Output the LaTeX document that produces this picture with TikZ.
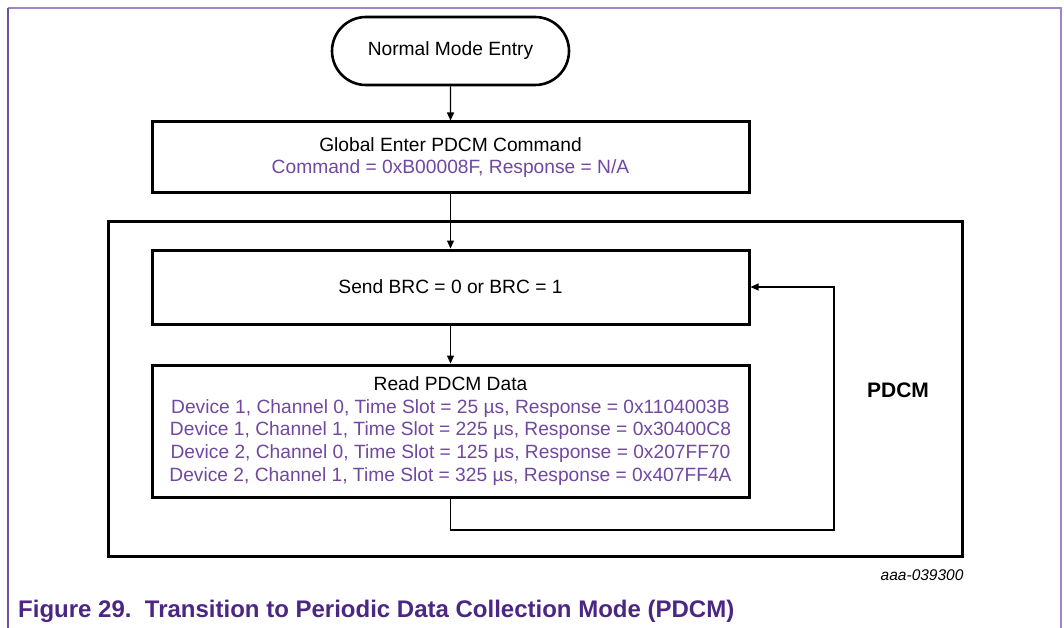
\documentclass[tikz,border=0pt]{standalone}
\usepackage{fontspec}
\setmainfont{Liberation Sans}
\usetikzlibrary{shapes.misc,arrows.meta}
\definecolor{nxpviolet}{RGB}{112,72,160}
\definecolor{captionviolet}{RGB}{75,38,130}
\definecolor{framepurple}{RGB}{160,132,196}
\definecolor{frameleft}{RGB}{110,80,160}

\begin{document}
\begin{tikzpicture}[x=1pt,y=-1pt,
  boxfont/.style={font=\fontsize{19.2}{22.8}\selectfont},
  term/.style={rounded rectangle, draw, line width=2.6pt, minimum width=237pt,
    minimum height=68pt, boxfont, inner sep=0pt},
  stepbox/.style={rectangle, draw, line width=3pt, minimum width=597pt,
    align=center, boxfont, inner sep=0pt},
  flow/.style={draw, line width=1.3pt, -{Triangle[length=8pt,width=7pt]}},
  back/.style={draw, line width=1.1pt, -{Triangle[length=8pt,width=7pt]}}
]
\useasboundingbox (0,0) rectangle (1064,628);

% page frame
\draw[framepurple, line width=1.2pt] (8,8) -- (1061,8) -- (1061,628);
\draw[frameleft, line width=1.2pt] (8,628) -- (8,8);

% PDCM region
\node[draw, line width=3pt, minimum width=854pt, minimum height=334pt, inner sep=0pt]
  (region) at (535,389) {};
\node[font=\bfseries\fontsize{21}{21}\selectfont] (regionlabel) at (898,390) {PDCM};

% flow steps
\node[term] (entry) at (450.5,51) {Normal Mode Entry};
\node[stepbox, minimum height=71pt] (gcmd) at (450.5,157.5)
  {Global Enter PDCM Command\\\textcolor{nxpviolet}{Command = 0xB00008F, Response = N/A}};
\node[stepbox, minimum height=74pt] (brc) at (450.5,287)
  {Send BRC = 0 or BRC = 1};
\node[stepbox, minimum height=132pt] (read) at (450.5,431)
  {Read PDCM Data\\
   \textcolor{nxpviolet}{Device 1, Channel 0, Time Slot = 25 µs, Response = 0x1104003B}\\
   \textcolor{nxpviolet}{Device 1, Channel 1, Time Slot = 225 µs, Response = 0x30400C8}\\
   \textcolor{nxpviolet}{Device 2, Channel 0, Time Slot = 125 µs, Response = 0x207FF70}\\
   \textcolor{nxpviolet}{Device 2, Channel 1, Time Slot = 325 µs, Response = 0x407FF4A}};

% connectors
\path[flow] (entry) -- (gcmd);
\path[flow] (gcmd) -- (brc);
\path[flow] (brc) -- (read);
\coordinate (loopcorner) at (834,530);
\path[back] (read.south) |- (loopcorner) |- (brc.east);

% drawing number and caption
\node[anchor=east, font=\itshape\fontsize{15.5}{15.5}\selectfont] (docid) at (967,575) {aaa-039300};
\node[anchor=west, font=\bfseries\fontsize{24}{24}\selectfont, text=captionviolet, inner sep=0pt]
  (caption) at (18,611) {Figure 29.\ \ Transition to Periodic Data Collection Mode (PDCM)};
\end{tikzpicture}
\end{document}
